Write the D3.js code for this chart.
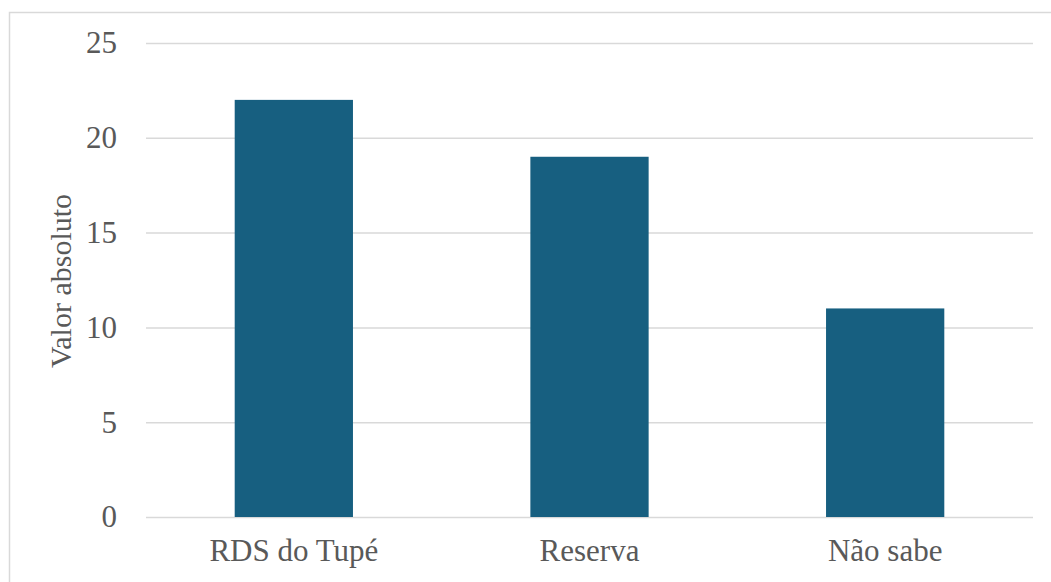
<!DOCTYPE html>
<html>
<head>
<meta charset="utf-8">
<script src="https://cdn.jsdelivr.net/npm/d3@7"></script>
<style>
  body { margin: 0; background: #fff; }
  svg text { font-family: 'Liberation Serif', 'Times New Roman', Tinos, 'DejaVu Serif', serif; fill: #595959; }
</style>
</head>
<body>
<div id="chart-area"></div>
<script>
const categories = ["RDS do Tupé", "Reserva", "Não sabe"];
const values = [22, 19, 11];
const yTicks = [0, 5, 10, 15, 20, 25];

const W = 1051, H = 582;
const MARGIN = { LEFT: 146, RIGHT: 18, TOP: 43, BOTTOM: 65 };
const WIDTH = W - MARGIN.LEFT - MARGIN.RIGHT;
const HEIGHT = H - MARGIN.TOP - MARGIN.BOTTOM;
const FONT = "'Liberation Serif', 'Times New Roman', Tinos, 'DejaVu Serif', serif";

const svg = d3.select("#chart-area").append("svg")
    .attr("width", W)
    .attr("height", H);

// chart border (right and bottom fall outside the frame)
svg.append("rect")
    .attr("x", 9.5)
    .attr("y", 12.5)
    .attr("width", W + 20)
    .attr("height", H + 20)
    .attr("fill", "none")
    .attr("stroke", "#d9d9d9")
    .attr("stroke-width", 1.5);

const g = svg.append("g")
    .attr("transform", `translate(${MARGIN.LEFT}, ${MARGIN.TOP})`);

const x = d3.scaleBand()
    .domain(categories)
    .range([0, WIDTH])
    .paddingInner(0.6)
    .paddingOuter(0.3);

const y = d3.scaleLinear()
    .domain([0, 25])
    .range([HEIGHT, 0]);

// gridlines
const yGrid = d3.axisLeft(y)
    .tickValues(yTicks)
    .tickSize(-WIDTH)
    .tickFormat("");
g.append("g")
    .attr("class", "grid")
    .call(yGrid)
    .call(sel => sel.select(".domain").remove())
    .call(sel => sel.selectAll("line").attr("stroke", "#d9d9d9").attr("stroke-width", 1.5));

// y axis labels
const yAxisCall = d3.axisLeft(y)
    .tickValues(yTicks)
    .tickSize(0)
    .tickPadding(29);
g.append("g")
    .attr("class", "y-axis")
    .attr("font-family", null)
    .call(yAxisCall)
    .call(sel => sel.select(".domain").remove())
    .call(sel => sel.selectAll("text")
        .style("font-family", FONT)
        .style("font-size", "31px")
        .attr("fill", "#595959"));

// bars
g.selectAll("rect.bar")
    .data(values)
    .enter().append("rect")
    .attr("class", "bar")
    .attr("x", (d, i) => x(categories[i]))
    .attr("y", d => y(d))
    .attr("width", x.bandwidth())
    .attr("height", d => HEIGHT - y(d))
    .attr("fill", "#175F80");

// x axis labels
const xAxisCall = d3.axisBottom(x)
    .tickSize(0)
    .tickPadding(22);
g.append("g")
    .attr("class", "x-axis")
    .attr("transform", `translate(0, ${HEIGHT})`)
    .call(xAxisCall)
    .call(sel => sel.select(".domain").remove())
    .call(sel => sel.selectAll("text")
        .style("font-family", FONT)
        .style("font-size", "31px")
        .attr("fill", "#595959"));

// y label
svg.append("text")
    .attr("x", -281)
    .attr("y", 71)
    .style("font-family", FONT)
    .style("font-size", "30px")
    .attr("text-anchor", "middle")
    .attr("transform", "rotate(-90)")
    .text("Valor absoluto");
</script>
</body>
</html>
